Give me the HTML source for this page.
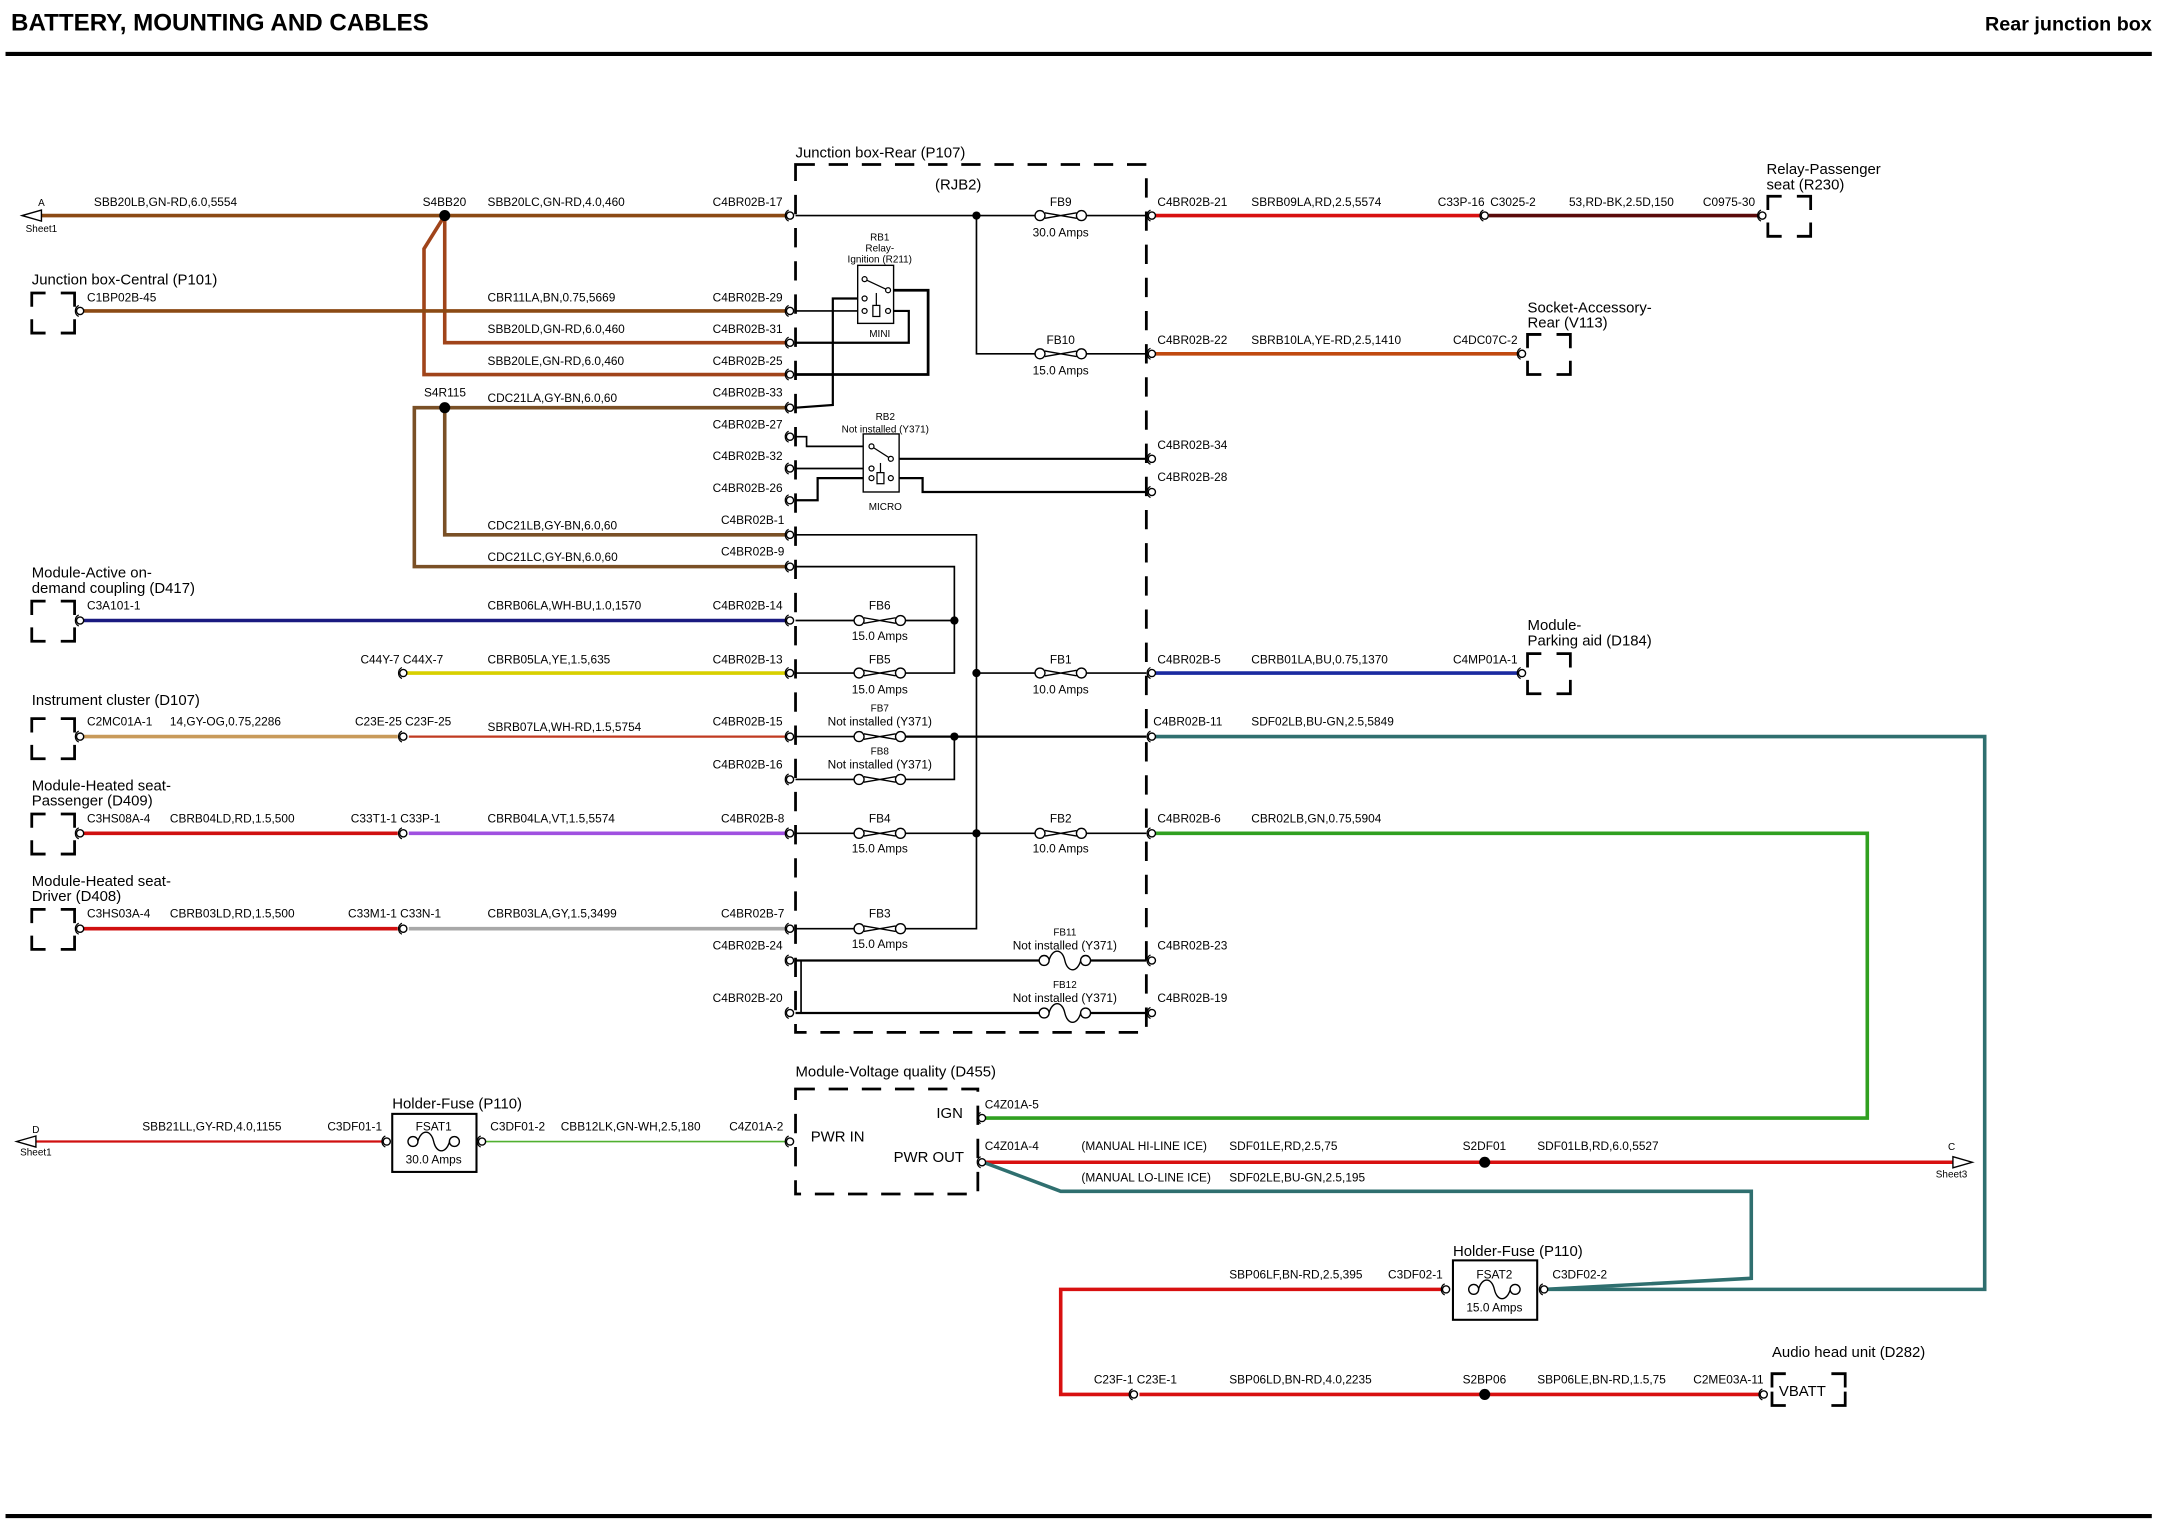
<!DOCTYPE html>
<html><head><meta charset="utf-8"><style>
html,body{margin:0;padding:0;background:#fff;}
svg{display:block;}
text{font-family:"Liberation Sans",sans-serif;font-size:8.6px;fill:#000;}
.t{font-size:10.8px;}
.h{font-size:17.5px;font-weight:bold;}
.s{font-size:7.2px;}
</style></head><body>
<svg width="2167" height="1534" viewBox="0 0 1569 1110" preserveAspectRatio="none" xmlns="http://www.w3.org/2000/svg">
<defs>
<g id="c"><circle r="2.6" fill="#fff" stroke="#000" stroke-width="1"/><path d="M-1,-4 A4.5,4.5 0 0 0 -1,4" fill="none" stroke="#000" stroke-width="0.9"/></g>
<g id="f"><circle cx="-15" r="3.6" fill="#fff" stroke="#000" stroke-width="1"/><circle cx="15" r="3.6" fill="#fff" stroke="#000" stroke-width="1"/><path d="M-11.5,-2 L11.5,2 M-11.5,2 L11.5,-2" stroke="#000" stroke-width="1" fill="none"/></g>
<g id="k"><circle cx="-15" r="3.6" fill="#fff" stroke="#000" stroke-width="1"/><circle cx="15" r="3.6" fill="#fff" stroke="#000" stroke-width="1"/><path d="M-11.5,0 C-9,-9 -2,-9 0,0 C2,9 9,9 11.5,0" stroke="#000" stroke-width="1" fill="none"/></g>
<g id="b"><path d="M0,10 V0 H10 M21,0 H31 V10 M31,19 V29 H21 M10,29 H0 V19" fill="none" stroke="#000" stroke-width="2"/></g>
</defs>

<!-- header -->
<text x="8" y="22" class="h">BATTERY, MOUNTING AND CABLES</text>
<text x="1558" y="22" class="t" style="font-weight:bold;font-size:14.3px" text-anchor="end">Rear junction box</text>
<line x1="4" y1="39" x2="1558" y2="39" stroke="#000" stroke-width="3"/>
<line x1="4" y1="1097" x2="1558" y2="1097" stroke="#000" stroke-width="3"/>

<!-- junction box -->
<rect x="576" y="119" width="254" height="628" fill="none" stroke="#000" stroke-width="2" stroke-dasharray="14 10"/>
<text x="576" y="114" class="t">Junction box-Rear (P107)</text>
<text x="677" y="137" class="t">(RJB2)</text>

<!-- brown wires -->
<g fill="none" stroke-width="2.6">
<line x1="22" y1="156" x2="572" y2="156" stroke="#8b4a14"/>
<polyline points="322,156 307,180 307,271 572,271" stroke="#a0441a"/>
<polyline points="322,156 322,248 572,248" stroke="#a0441a"/>
<line x1="60" y1="225" x2="572" y2="225" stroke="#8b4a14"/>
<polyline points="572,295 300,295 300,410 572,410" stroke="#7a5026"/>
<polyline points="322,295 322,387 572,387" stroke="#7a5026"/>
<line x1="60" y1="449" x2="572" y2="449" stroke="#1a1a80"/>
<line x1="294" y1="487" x2="572" y2="487" stroke="#d8d000"/>
<line x1="60" y1="533" x2="288" y2="533" stroke="#c89a5a"/>
<line x1="296" y1="533" x2="572" y2="533" stroke="#c03a20" stroke-width="1.6"/>
<line x1="60" y1="603" x2="288" y2="603" stroke="#d01010"/>
<line x1="296" y1="603" x2="572" y2="603" stroke="#a050e0"/>
<line x1="60" y1="672" x2="288" y2="672" stroke="#d01010"/>
<line x1="296" y1="672" x2="572" y2="672" stroke="#a8a8a8"/>
<line x1="835" y1="156" x2="1072" y2="156" stroke="#d81010"/>
<line x1="1078" y1="156" x2="1275" y2="156" stroke="#5a0a0a"/>
<line x1="835" y1="256" x2="1100" y2="256" stroke="#c04a10"/>
<line x1="835" y1="487" x2="1100" y2="487" stroke="#1a2aa0"/>
<polyline points="835,533 1437,533 1437,933 1118,933" stroke="#2f6f6f"/>
<polyline points="835,603 1352,603 1352,809 712,809" stroke="#30a020"/>
<line x1="22" y1="826" x2="280" y2="826" stroke="#d01010" stroke-width="1.6"/>
<line x1="350" y1="826" x2="572" y2="826" stroke="#50b030" stroke-width="1.2"/>
<line x1="712" y1="841" x2="1420" y2="841" stroke="#d81010"/>
<polyline points="712,841 768,862 1268,862 1268,925 1118,933" stroke="#2f6f6f"/>
<polyline points="1045,933 768,933 768,1009 818,1009" stroke="#d81010"/>
<line x1="825" y1="1009" x2="1275" y2="1009" stroke="#d81010"/>
</g>

<!-- black internal wires -->
<g fill="none" stroke="#000" stroke-width="1.2">
<line x1="576" y1="156" x2="750" y2="156"/>
<line x1="786" y1="156" x2="830" y2="156"/>
<polyline points="707,156 707,256 750,256"/>
<line x1="786" y1="256" x2="830" y2="256"/>
<line x1="576" y1="225" x2="622" y2="225"/>
<polyline points="643,210 672,210 672,271 576,271" stroke-width="2"/>
<polyline points="643,225 658,225 658,248 576,248" stroke-width="1.6"/>
<polyline points="626,216 603,216 603,293 576,295" stroke-width="1.6"/>
<polyline points="576,316 584,316 584,323 631,323"/>
<line x1="576" y1="339" x2="631" y2="339"/>
<polyline points="576,362 592,362 592,346 631,346" stroke-width="1.6"/>
<line x1="645" y1="332" x2="830" y2="332" stroke-width="1.6"/>
<polyline points="651,346 668,346 668,356 830,356" stroke-width="1.6"/>
<polyline points="576,387 707,387 707,672 652,672"/>
<polyline points="576,410 691,410 691,487 652,487"/>
<line x1="576" y1="449" x2="622" y2="449"/>
<line x1="652" y1="449" x2="691" y2="449"/>
<line x1="576" y1="487" x2="622" y2="487"/>
<line x1="707" y1="487" x2="753" y2="487"/>
<line x1="783" y1="487" x2="830" y2="487"/>
<line x1="576" y1="533" x2="622" y2="533"/>
<line x1="652" y1="533" x2="830" y2="533" stroke-width="1.6"/>
<line x1="576" y1="564" x2="622" y2="564"/>
<polyline points="652,564 691,564 691,533"/>
<line x1="576" y1="603" x2="622" y2="603"/>
<line x1="652" y1="603" x2="753" y2="603"/>
<line x1="783" y1="603" x2="830" y2="603"/>
<line x1="576" y1="672" x2="622" y2="672"/>
<line x1="576" y1="695" x2="753" y2="695" stroke-width="1.6"/>
<line x1="783" y1="695" x2="830" y2="695" stroke-width="1.6"/>
<line x1="576" y1="733" x2="753" y2="733" stroke-width="1.6"/>
<line x1="783" y1="733" x2="830" y2="733" stroke-width="1.6"/>
<line x1="580" y1="695" x2="580" y2="733"/>
</g>

<!-- relays -->
<rect x="621" y="192" width="26" height="42" fill="#fff" stroke="#000" stroke-width="1"/>
<g stroke="#000" fill="#fff" stroke-width="0.9">
<line x1="626" y1="202" x2="643" y2="210"/><circle cx="626" cy="202" r="1.8"/><circle cx="643" cy="210" r="1.8"/>
<circle cx="626" cy="216" r="1.8"/><circle cx="626" cy="225" r="1.8"/><circle cx="643" cy="225" r="1.8"/>
<rect x="632" y="221" width="5" height="8"/><line x1="634.5" y1="212" x2="634.5" y2="221"/>
</g>
<text x="637" y="174" class="s" text-anchor="middle">RB1</text>
<text x="637" y="182" class="s" text-anchor="middle">Relay-</text>
<text x="637" y="190" class="s" text-anchor="middle">Ignition (R211)</text>
<text x="637" y="244" class="s" text-anchor="middle">MINI</text>

<rect x="625" y="314" width="26" height="42" fill="#fff" stroke="#000" stroke-width="1"/>
<g stroke="#000" fill="#fff" stroke-width="0.9">
<line x1="631" y1="323" x2="645" y2="332"/><circle cx="631" cy="323" r="1.8"/><circle cx="645" cy="332" r="1.8"/>
<circle cx="631" cy="339" r="1.8"/><circle cx="631" cy="346" r="1.8"/><circle cx="645" cy="346" r="1.8"/>
<rect x="635" y="342" width="5" height="8"/><line x1="637.5" y1="335" x2="637.5" y2="342"/>
</g>
<text x="641" y="304" class="s" text-anchor="middle">RB2</text>
<text x="641" y="313" class="s" text-anchor="middle">Not installed (Y371)</text>
<text x="641" y="369" class="s" text-anchor="middle">MICRO</text>

<!-- fuses -->
<use href="#f" x="768" y="156"/><text x="768" y="149" text-anchor="middle">FB9</text><text x="768" y="171" text-anchor="middle">30.0 Amps</text>
<use href="#f" x="768" y="256"/><text x="768" y="249" text-anchor="middle">FB10</text><text x="768" y="271" text-anchor="middle">15.0 Amps</text>
<use href="#f" x="637" y="449"/><text x="637" y="441" text-anchor="middle">FB6</text><text x="637" y="463" text-anchor="middle">15.0 Amps</text>
<use href="#f" x="637" y="487"/><text x="637" y="480" text-anchor="middle">FB5</text><text x="637" y="502" text-anchor="middle">15.0 Amps</text>
<use href="#f" x="768" y="487"/><text x="768" y="480" text-anchor="middle">FB1</text><text x="768" y="502" text-anchor="middle">10.0 Amps</text>
<use href="#f" x="637" y="533"/><text x="637" y="515" class="s" text-anchor="middle">FB7</text><text x="637" y="525" text-anchor="middle">Not installed (Y371)</text>
<use href="#f" x="637" y="564"/><text x="637" y="546" class="s" text-anchor="middle">FB8</text><text x="637" y="556" text-anchor="middle">Not installed (Y371)</text>
<use href="#f" x="637" y="603"/><text x="637" y="595" text-anchor="middle">FB4</text><text x="637" y="617" text-anchor="middle">15.0 Amps</text>
<use href="#f" x="768" y="603"/><text x="768" y="595" text-anchor="middle">FB2</text><text x="768" y="617" text-anchor="middle">10.0 Amps</text>
<use href="#f" x="637" y="672"/><text x="637" y="664" text-anchor="middle">FB3</text><text x="637" y="686" text-anchor="middle">15.0 Amps</text>
<use href="#k" x="771" y="695"/><text x="771" y="677" class="s" text-anchor="middle">FB11</text><text x="771" y="687" text-anchor="middle">Not installed (Y371)</text>
<use href="#k" x="771" y="733"/><text x="771" y="715" class="s" text-anchor="middle">FB12</text><text x="771" y="725" text-anchor="middle">Not installed (Y371)</text>

<g fill="#000">
<circle cx="322" cy="156" r="4"/><circle cx="322" cy="295" r="4"/>
<circle cx="707" cy="156" r="3"/><circle cx="691" cy="449" r="3"/><circle cx="707" cy="487" r="3"/>
<circle cx="691" cy="533" r="3"/><circle cx="707" cy="603" r="3"/>
<circle cx="1075" cy="841" r="4"/><circle cx="1075" cy="1009" r="4"/>
</g>

<g>
<use href="#c" x="572" y="156"/><use href="#c" x="572" y="225"/><use href="#c" x="572" y="248"/><use href="#c" x="572" y="271"/><use href="#c" x="572" y="295"/>
<use href="#c" x="572" y="316"/><use href="#c" x="572" y="339"/><use href="#c" x="572" y="362"/><use href="#c" x="572" y="387"/><use href="#c" x="572" y="410"/>
<use href="#c" x="572" y="449"/><use href="#c" x="572" y="487"/><use href="#c" x="572" y="533"/><use href="#c" x="572" y="564"/><use href="#c" x="572" y="603"/>
<use href="#c" x="572" y="672"/><use href="#c" x="572" y="695"/><use href="#c" x="572" y="733"/>
<use href="#c" x="834" y="156"/><use href="#c" x="834" y="256"/><use href="#c" x="834" y="332"/><use href="#c" x="834" y="356"/><use href="#c" x="834" y="487"/>
<use href="#c" x="834" y="533"/><use href="#c" x="834" y="603"/><use href="#c" x="834" y="695"/><use href="#c" x="834" y="733"/>
<use href="#c" x="58" y="225"/><use href="#c" x="58" y="449"/><use href="#c" x="58" y="533"/><use href="#c" x="58" y="603"/><use href="#c" x="58" y="672"/>
<use href="#c" x="292" y="487"/><use href="#c" x="292" y="533"/><use href="#c" x="292" y="603"/><use href="#c" x="292" y="672"/>
<use href="#c" x="1075" y="156"/><use href="#c" x="1276" y="156"/><use href="#c" x="1102" y="256"/><use href="#c" x="1102" y="487"/>
<use href="#c" x="280" y="826"/><use href="#c" x="349" y="826"/><use href="#c" x="572" y="826"/>
<use href="#c" x="711" y="809"/><use href="#c" x="711" y="841"/><use href="#c" x="1047" y="933"/><use href="#c" x="1118" y="933"/>
<use href="#c" x="821" y="1009"/><use href="#c" x="1277" y="1009"/>
</g>

<use href="#b" x="23" y="212"/><use href="#b" x="23" y="435"/><use href="#b" x="23" y="520"/><use href="#b" x="23" y="589"/><use href="#b" x="23" y="658"/>
<use href="#b" x="1280" y="142"/><use href="#b" x="1106" y="242"/><use href="#b" x="1106" y="473"/>

<path d="M16,156 L30,152 L30,160 Z" fill="#fff" stroke="#000"/><text x="30" y="149" class="s" text-anchor="middle">A</text><text x="30" y="168" class="s" text-anchor="middle">Sheet1</text>
<path d="M12,826 L26,822 L26,830 Z" fill="#fff" stroke="#000"/><text x="26" y="820" class="s" text-anchor="middle">D</text><text x="26" y="836" class="s" text-anchor="middle">Sheet1</text>
<path d="M1428,841 L1414,837 L1414,845 Z" fill="#fff" stroke="#000"/><text x="1413" y="832" class="s" text-anchor="middle">C</text><text x="1413" y="852" class="s" text-anchor="middle">Sheet3</text>

<text x="23" y="206" class="t">Junction box-Central (P101)</text>
<text x="23" y="418" class="t">Module-Active on-</text><text x="23" y="429" class="t">demand coupling (D417)</text>
<text x="23" y="510" class="t">Instrument cluster (D107)</text>
<text x="23" y="572" class="t">Module-Heated seat-</text><text x="23" y="583" class="t">Passenger (D409)</text>
<text x="23" y="641" class="t">Module-Heated seat-</text><text x="23" y="652" class="t">Driver (D408)</text>
<text x="1279" y="126" class="t">Relay-Passenger</text><text x="1279" y="137" class="t">seat (R230)</text>
<text x="1106" y="226" class="t">Socket-Accessory-</text><text x="1106" y="237" class="t">Rear (V113)</text>
<text x="1106" y="456" class="t">Module-</text><text x="1106" y="467" class="t">Parking aid (D184)</text>

<text x="68" y="149">SBB20LB,GN-RD,6.0,5554</text><text x="306" y="149">S4BB20</text><text x="353" y="149">SBB20LC,GN-RD,4.0,460</text><text x="516" y="149">C4BR02B-17</text>
<text x="63" y="218">C1BP02B-45</text><text x="353" y="218">CBR11LA,BN,0.75,5669</text><text x="516" y="218">C4BR02B-29</text>
<text x="353" y="241">SBB20LD,GN-RD,6.0,460</text><text x="516" y="241">C4BR02B-31</text>
<text x="353" y="264">SBB20LE,GN-RD,6.0,460</text><text x="516" y="264">C4BR02B-25</text>
<text x="307" y="287">S4R115</text><text x="353" y="291">CDC21LA,GY-BN,6.0,60</text><text x="516" y="287">C4BR02B-33</text>
<text x="516" y="310">C4BR02B-27</text><text x="516" y="333">C4BR02B-32</text><text x="516" y="356">C4BR02B-26</text>
<text x="353" y="383">CDC21LB,GY-BN,6.0,60</text><text x="522" y="379">C4BR02B-1</text>
<text x="353" y="406">CDC21LC,GY-BN,6.0,60</text><text x="522" y="402">C4BR02B-9</text>
<text x="63" y="441">C3A101-1</text><text x="353" y="441">CBRB06LA,WH-BU,1.0,1570</text><text x="516" y="441">C4BR02B-14</text>
<text x="261" y="480">C44Y-7 C44X-7</text><text x="353" y="480">CBRB05LA,YE,1.5,635</text><text x="516" y="480">C4BR02B-13</text>
<text x="63" y="525">C2MC01A-1</text><text x="123" y="525">14,GY-OG,0.75,2286</text><text x="257" y="525">C23E-25 C23F-25</text><text x="353" y="529">SBRB07LA,WH-RD,1.5,5754</text><text x="516" y="525">C4BR02B-15</text>
<text x="516" y="556">C4BR02B-16</text>
<text x="63" y="595">C3HS08A-4</text><text x="123" y="595">CBRB04LD,RD,1.5,500</text><text x="254" y="595">C33T1-1 C33P-1</text><text x="353" y="595">CBRB04LA,VT,1.5,5574</text><text x="522" y="595">C4BR02B-8</text>
<text x="63" y="664">C3HS03A-4</text><text x="123" y="664">CBRB03LD,RD,1.5,500</text><text x="252" y="664">C33M1-1 C33N-1</text><text x="353" y="664">CBRB03LA,GY,1.5,3499</text><text x="522" y="664">C4BR02B-7</text>
<text x="516" y="687">C4BR02B-24</text><text x="516" y="725">C4BR02B-20</text>
<text x="838" y="149">C4BR02B-21</text><text x="906" y="149">SBRB09LA,RD,2.5,5574</text><text x="1041" y="149">C33P-16</text><text x="1079" y="149">C3025-2</text><text x="1136" y="149">53,RD-BK,2.5D,150</text><text x="1233" y="149">C0975-30</text>
<text x="838" y="249">C4BR02B-22</text><text x="906" y="249">SBRB10LA,YE-RD,2.5,1410</text><text x="1052" y="249">C4DC07C-2</text>
<text x="838" y="325">C4BR02B-34</text><text x="838" y="348">C4BR02B-28</text>
<text x="838" y="480">C4BR02B-5</text><text x="906" y="480">CBRB01LA,BU,0.75,1370</text><text x="1052" y="480">C4MP01A-1</text>
<text x="835" y="525">C4BR02B-11</text><text x="906" y="525">SDF02LB,BU-GN,2.5,5849</text>
<text x="838" y="595">C4BR02B-6</text><text x="906" y="595">CBR02LB,GN,0.75,5904</text>
<text x="838" y="687">C4BR02B-23</text><text x="838" y="725">C4BR02B-19</text>

<text x="103" y="818">SBB21LL,GY-RD,4.0,1155</text><text x="237" y="818">C3DF01-1</text>
<text x="284" y="802" class="t">Holder-Fuse (P110)</text>
<rect x="284" y="806" width="61" height="42" fill="#fff" stroke="#000" stroke-width="1.5"/>
<use href="#k" x="314" y="826"/><text x="314" y="818" text-anchor="middle">FSAT1</text><text x="314" y="842" text-anchor="middle">30.0 Amps</text>
<text x="355" y="818">C3DF01-2</text><text x="406" y="818">CBB12LK,GN-WH,2.5,180</text><text x="528" y="818">C4Z01A-2</text>
<text x="576" y="779" class="t">Module-Voltage quality (D455)</text>
<rect x="576" y="788" width="132" height="76" fill="none" stroke="#000" stroke-width="2" stroke-dasharray="14 10"/>
<text x="587" y="826" class="t">PWR IN</text><text x="678" y="809" class="t">IGN</text><text x="647" y="841" class="t">PWR OUT</text>
<text x="713" y="802">C4Z01A-5</text>
<text x="713" y="832">C4Z01A-4</text><text x="783" y="832">(MANUAL HI-LINE ICE)</text><text x="890" y="832">SDF01LE,RD,2.5,75</text><text x="1059" y="832">S2DF01</text><text x="1113" y="832">SDF01LB,RD,6.0,5527</text>
<text x="783" y="855">(MANUAL LO-LINE ICE)</text><text x="890" y="855">SDF02LE,BU-GN,2.5,195</text>
<text x="1052" y="909" class="t">Holder-Fuse (P110)</text>
<rect x="1052" y="912" width="61" height="43" fill="#fff" stroke="#000" stroke-width="1.5"/>
<use href="#k" x="1082" y="933"/><text x="1082" y="925" text-anchor="middle">FSAT2</text><text x="1082" y="949" text-anchor="middle">15.0 Amps</text>
<text x="890" y="925">SBP06LF,BN-RD,2.5,395</text><text x="1005" y="925">C3DF02-1</text><text x="1124" y="925">C3DF02-2</text>
<text x="792" y="1001">C23F-1 C23E-1</text><text x="890" y="1001">SBP06LD,BN-RD,4.0,2235</text><text x="1059" y="1001">S2BP06</text><text x="1113" y="1001">SBP06LE,BN-RD,1.5,75</text><text x="1226" y="1001">C2ME03A-11</text>
<text x="1283" y="982" class="t">Audio head unit (D282)</text>
<path d="M1283,1004 V994 H1293 M1326,994 H1336 V1004 M1336,1007 V1017 H1326 M1293,1017 H1283 V1007" fill="none" stroke="#000" stroke-width="2"/>
<text x="1288" y="1010" class="t">VBATT</text>
</svg>
</body></html>
